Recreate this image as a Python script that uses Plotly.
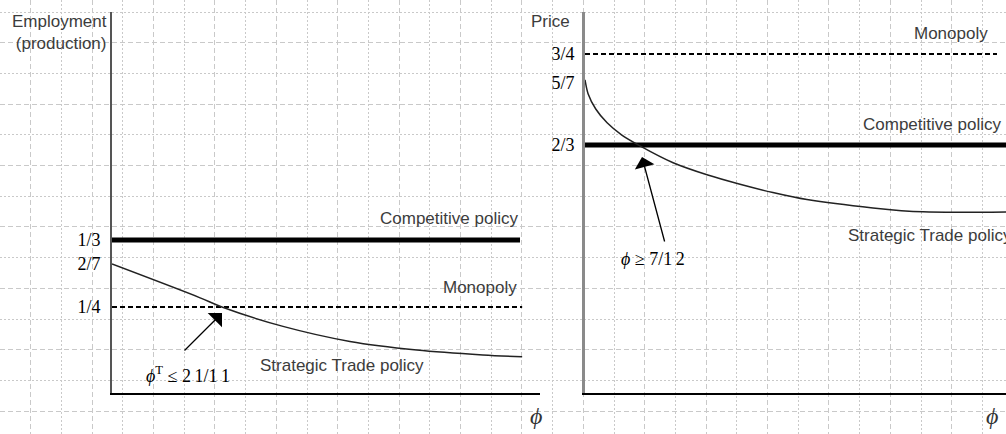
import plotly.graph_objects as go

# ---------------- data (schematic heights, in grid units above the phi axis) ----------------
left_tick_text = ["1/3", "2/7", "1/4"]
left_tick_pos = [4.98, 4.2, 2.8]
left_competitive = 4.98
left_monopoly = 2.8
left_line_end = [13.29, 13.36]          # competitive, monopoly
left_phi = [0.0, 2.87, 3.58, 5.57, 7.75, 9.93, 12.08, 13.36]
left_strategic = [4.2, 3.1, 2.8, 2.17, 1.68, 1.40, 1.24, 1.18]

right_tick_text = ["3/4", "5/7", "2/3"]
right_tick_pos = [11.04, 10.1, 8.08]
right_monopoly = 11.04
right_competitive = 8.08
right_line_end = [14.0, 13.42]         # competitive, monopoly
right_phi = [0.0, 0.1, 0.35, 0.72, 1.2, 1.79, 2.87, 4.0, 5.05, 6.12, 7.23, 9.38, 11.01, 14.0]
right_strategic = [10.2, 9.75, 9.25, 8.8, 8.4, 8.05, 7.5, 7.1, 6.8, 6.53, 6.3, 6.03, 5.9, 5.9]

# ---------------- layout constants ----------------
W, H = 1006, 434
G = 30.7                 # grid spacing in px
TOP, BASE = 12, 393      # px
LX0, LX1 = 112, 540
RX0, RX1 = 585, 1006

SANS = "Liberation Sans, Arial, sans-serif"
SERIF = "Liberation Serif, Times New Roman, serif"
TXT = "#3c3c3c"
GRID = "#c9c9c9"

ydom = [(H - BASE) / H, (H - TOP) / H]
yrng = [0, (BASE - TOP) / G]

fig = go.Figure()

# invisible traces to create background grid subplots
for xa, ya in (("x", "y"), ("x4", "y4")):
    fig.add_trace(go.Scatter(x=[0], y=[0], mode="markers", marker=dict(opacity=0),
                             hoverinfo="skip", showlegend=False, xaxis=xa, yaxis=ya))

# left panel
fig.add_trace(go.Scatter(x=[0, left_line_end[0]], y=[left_competitive] * 2, mode="lines",
                         line=dict(color="black", width=5), xaxis="x2", yaxis="y2", showlegend=False))
fig.add_trace(go.Scatter(x=[0, left_line_end[1]], y=[left_monopoly] * 2, mode="lines",
                         line=dict(color="black", width=2, dash="5px,3px"), xaxis="x2", yaxis="y2", showlegend=False))
fig.add_trace(go.Scatter(x=left_phi, y=left_strategic, mode="lines",
                         line=dict(color="#222", width=1.5, shape="spline", smoothing=0.9),
                         xaxis="x2", yaxis="y2", showlegend=False))

# right panel
fig.add_trace(go.Scatter(x=[0, right_line_end[0]], y=[right_competitive] * 2, mode="lines",
                         line=dict(color="black", width=5), xaxis="x3", yaxis="y3", showlegend=False))
fig.add_trace(go.Scatter(x=[0, right_line_end[1]], y=[right_monopoly] * 2, mode="lines",
                         line=dict(color="black", width=2, dash="5px,3px"), xaxis="x3", yaxis="y3", showlegend=False))
fig.add_trace(go.Scatter(x=right_phi, y=right_strategic, mode="lines",
                         line=dict(color="#222", width=1.5, shape="spline", smoothing=0.8),
                         xaxis="x3", yaxis="y3", showlegend=False))

def bg(dash, t0, **kw):
    return dict(showgrid=True, gridcolor=GRID, gridwidth=1, griddash=dash,
                dtick=2, tick0=t0, zeroline=False, showticklabels=False, ticks="",
                fixedrange=True, **kw)

fig.update_layout(
    width=W, height=H, margin=dict(l=0, r=0, t=0, b=0),
    paper_bgcolor="white", plot_bgcolor="rgba(0,0,0,0)", showlegend=False,
    xaxis=bg("5px,3px", 1, domain=[0, 1], range=[0, W / G]),
    yaxis=bg("5px,3px", 1, domain=[0, 1], range=[(H - TOP) / G, -TOP / G]),
    xaxis4=bg("2px,2px", 0, range=[0, W / G], overlaying="x", anchor="y4"),
    yaxis4=bg("2px,2px", 0, range=[(H - TOP) / G, -TOP / G], overlaying="y", anchor="x4"),
    xaxis2=dict(domain=[LX0 / W, LX1 / W], range=[0, (LX1 - LX0) / G], anchor="y2",
                showgrid=False, zeroline=False, showticklabels=False, ticks="",
                showline=True, linecolor="black", linewidth=2),
    yaxis2=dict(domain=ydom, range=yrng, anchor="x2",
                showgrid=False, zeroline=False, ticks="",
                tickvals=left_tick_pos, ticktext=left_tick_text,
                tickfont=dict(family=SERIF, size=18, color="black"), ticklabelstandoff=6,
                showline=True, linecolor="#555", linewidth=2),
    xaxis3=dict(domain=[RX0 / W, RX1 / W], range=[0, (RX1 - RX0) / G], anchor="y3",
                showgrid=False, zeroline=False, showticklabels=False, ticks="",
                showline=True, linecolor="black", linewidth=2),
    yaxis3=dict(domain=ydom, range=yrng, anchor="x3",
                showgrid=False, zeroline=False, ticks="",
                tickvals=right_tick_pos, ticktext=right_tick_text,
                tickfont=dict(family=SERIF, size=18, color="black"), ticklabelstandoff=4,
                showline=True, linecolor="#8a8a8a", linewidth=3),
)

def px2lx(px):
    return (px - LX0) / G

def px2rx(px):
    return (px - RX0) / G

def py2y(py):
    return (BASE - py) / G

ann = []
sans_font = dict(family=SANS, size=17, color=TXT)
# axis titles
ann.append(dict(text="Employment<br>(production)", xref="paper", yref="paper",
                x=109 / W, y=(H - 10) / H, xanchor="right", yanchor="top", align="right",
                showarrow=False, font=sans_font))
ann.append(dict(text="Price", xref="paper", yref="paper",
                x=572 / W, y=(H - 10) / H, xanchor="right", yanchor="top",
                showarrow=False, font=sans_font))
# phi labels
for xp in (536, 992):
    ann.append(dict(text="<i>ϕ</i>", xref="paper", yref="paper", x=xp / W, y=(H - 416) / H,
                    xanchor="center", yanchor="middle", showarrow=False,
                    font=dict(family=SERIF, size=24, color="#333")))
# left panel text
ann.append(dict(text="Competitive policy", xref="x2", yref="y2", x=px2lx(520), y=left_competitive,
                xanchor="right", yanchor="middle", yshift=22, showarrow=False, font=sans_font))
ann.append(dict(text="Monopoly", xref="x2", yref="y2", x=px2lx(519), y=left_monopoly,
                xanchor="right", yanchor="middle", yshift=20, showarrow=False, font=sans_font))
ann.append(dict(text="Strategic Trade policy", xref="x2", yref="y2", x=px2lx(258), y=py2y(365),
                xanchor="left", yanchor="middle", showarrow=False, font=sans_font))
# right panel text
ann.append(dict(text="Monopoly", xref="x3", yref="y3", x=px2rx(990), y=right_monopoly,
                xanchor="right", yanchor="middle", yshift=21, showarrow=False, font=sans_font))
ann.append(dict(text="Competitive policy", xref="x3", yref="y3", x=px2rx(1003), y=right_competitive,
                xanchor="right", yanchor="middle", yshift=20, showarrow=False, font=sans_font))
ann.append(dict(text="Strategic Trade policy", xref="x3", yref="y3", x=px2rx(846), y=py2y(235),
                xanchor="left", yanchor="middle", showarrow=False, font=sans_font))
# arrows
ann.append(dict(text="", xref="x2", yref="y2", x=px2lx(222), y=py2y(313),
                axref="x2", ayref="y2", ax=px2lx(183), ay=py2y(352),
                showarrow=True, arrowhead=1, arrowsize=2.6, arrowwidth=1.3, arrowcolor="black",
                standoff=0))
ann.append(dict(text="", xref="x3", yref="y3", x=px2rx(642), y=py2y(157),
                axref="x3", ayref="y3", ax=px2rx(665), ay=py2y(243),
                showarrow=True, arrowhead=1, arrowsize=2.6, arrowwidth=1.3, arrowcolor="black",
                standoff=0))
# threshold labels
ann.append(dict(text="<i>ϕ</i><sup>T</sup> ≤ 2\u20091/1\u20091", xref="x2", yref="y2",
                x=px2lx(144), y=py2y(374), xanchor="left", yanchor="middle", showarrow=False,
                font=dict(family=SERIF, size=18, color="black")))
ann.append(dict(text="<i>ϕ</i> ≥ 7/1\u20092", xref="x3", yref="y3",
                x=px2rx(619), y=py2y(259), xanchor="left", yanchor="middle", showarrow=False,
                font=dict(family=SERIF, size=18, color="black")))

fig.update_layout(annotations=ann)
fig.write_html("out.html", config={"displayModeBar": False},
               post_script="document.body.style.margin='0';document.body.style.overflow='hidden';")
